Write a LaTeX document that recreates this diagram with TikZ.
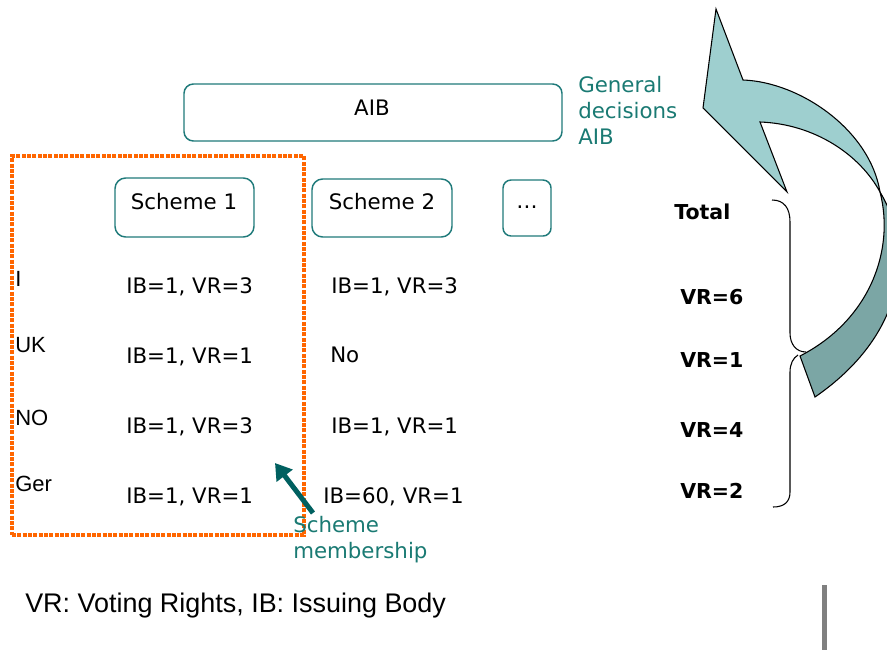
\documentclass[tikz,border=0pt]{standalone}
\usepackage{fontspec}
\setmainfont{DejaVu Sans}
\newfontfamily\arialf{Liberation Sans}
\usetikzlibrary{arrows.meta,fit}
\definecolor{boxteal}{HTML}{1F7A7A}
\definecolor{txtteal}{HTML}{1A7A73}
\definecolor{arrteal}{HTML}{006060}
\definecolor{orng}{HTML}{FF6600}
\definecolor{lightband}{HTML}{9ECFCF}
\definecolor{darkband}{HTML}{7BA6A5}
\definecolor{barg}{HTML}{808080}
\begin{document}
\begin{tikzpicture}[x=0.75pt,y=-0.75pt,
  rbox/.style={draw=boxteal, line width=1.1pt, rounded corners=7pt, inner sep=0pt},
  vtext/.style={font=\fontsize{16}{19.5}\selectfont, inner sep=0pt, anchor=base},
  vleft/.style={vtext, anchor=base west},
  rowlab/.style={font=\arialf\fontsize{16.5}{19.5}\selectfont, inner sep=0pt, anchor=base west},
  tealnote/.style={vleft, text=txtteal, align=left},
  boldv/.style={font=\bfseries\fontsize{15.4}{18}\selectfont, inner sep=0pt, anchor=base west},
  band/.style={draw=black, line width=0.8pt, line join=miter},
  brace/.style={draw=black, line width=0.8pt},
  dotbox/.style={draw=orng, line width=3pt, dash pattern=on 3pt off 1pt},
  memberarrow/.style={draw=arrteal, line width=3.75pt, -{Triangle[length=12pt,width=14.5pt]}}
]
\useasboundingbox (0,0) rectangle (887,650);
\clip (0,0) rectangle (887,650);

% curved block arrow
\coordinate (cTip) at (716,9);
\coordinate (cOut) at (743,80);
\coordinate (cTw) at (880,192);
\coordinate (cTailO) at (815,397);
\coordinate (cTailI) at (800,356);
\coordinate (cIn) at (760,122);
\coordinate (cBarbR) at (787,192);
\coordinate (cBarbL) at (703,108);
\path[band, fill=darkband] (cTw) .. controls (915,250) and (905,335) .. (cTailO)
  -- (cTailI) .. controls (870,320) and (895,250) .. (cTw) -- cycle;
\path[band, fill=lightband] (cTip) -- (cOut) .. controls (800,82) and (870,130) .. (cTw)
  .. controls (860,155) and (815,124) .. (cIn) -- (cBarbR) -- (cBarbL) -- cycle;

% AIB box
\node[rbox, fit={(184,84)(562,141)}] (aib) {};
\node[vtext] (aibt) at (372,115) {AIB};
\node[tealnote] (gen) at (578,144) {General\\decisions\\AIB};

% scheme boxes
\node[rbox, rounded corners=8pt, fit={(115,178)(254,237)}] (s1) {};
\node[vtext] (s1t) at (184,209) {Scheme 1};
\node[rbox, rounded corners=8pt, fit={(312,179)(452,237)}] (s2) {};
\node[vtext] (s2t) at (382,209) {Scheme 2};
\node[rbox, rounded corners=6pt, fit={(503,180)(551,236)}] (s3) {};
\node[vtext] (s3t) at (527,208) {…};

% dotted membership box
\node[dotbox, inner sep=0pt, fit={(12,156)(304,535)}] (mem) {};

% row labels
\node[rowlab] (rI) at (15,286) {I};
\node[rowlab] (rUK) at (15,352) {UK};
\node[rowlab] (rNO) at (15,425) {NO};
\node[rowlab] (rGer) at (15,491) {Ger};

% scheme 1 values
\node[vleft] (a1) at (126,293) {IB=1, VR=3};
\node[vleft] (a2) at (126,363) {IB=1, VR=1};
\node[vleft] (a3) at (126,433) {IB=1, VR=3};
\node[vleft] (a4) at (126,503) {IB=1, VR=1};

% scheme 2 values
\node[vleft] (b1) at (331,293) {IB=1, VR=3};
\node[vleft] (b2) at (330,362) {No};
\node[vleft] (b3) at (331,433) {IB=1, VR=1};
\node[vleft] (b4) at (323,503) {IB=60, VR=1};

% scheme membership
\node[tealnote] (smt) at (293,558) {Scheme\\membership};
\coordinate (smTail) at (313,513);
\coordinate (smTip) at (275,463);
\draw[memberarrow] (smTail) -- (smTip);

% totals
\node[boldv] (tot) at (674,219) {Total};
\node[boldv] (v6) at (680,304) {VR=6};
\node[boldv] (v1) at (680,367) {VR=1};
\node[boldv] (v4) at (680,437) {VR=4};
\node[boldv] (v2) at (680,498) {VR=2};

% braces
\coordinate (brTop) at (772,200);
\coordinate (brMidU) at (806,352);
\coordinate (brMidL) at (798,355);
\coordinate (brBot) at (773,507);
\draw[brace] (brTop) .. controls (784,200) and (790,208) .. (790,222) -- (790,333)
  .. controls (790,344) and (796,352) .. (brMidU);
\draw[brace] (brMidL) .. controls (793,358) and (790,364) .. (790,372) -- (790,492)
  .. controls (790,502) and (784,507) .. (brBot);

% legend
\node[font=\arialf\fontsize{20.2}{23}\selectfont, inner sep=0pt, anchor=base west] (leg) at (25,612) {VR: Voting Rights, IB: Issuing Body};

% gray bar
\fill[barg] (822,585) rectangle (827,650);
\end{tikzpicture}
\end{document}
